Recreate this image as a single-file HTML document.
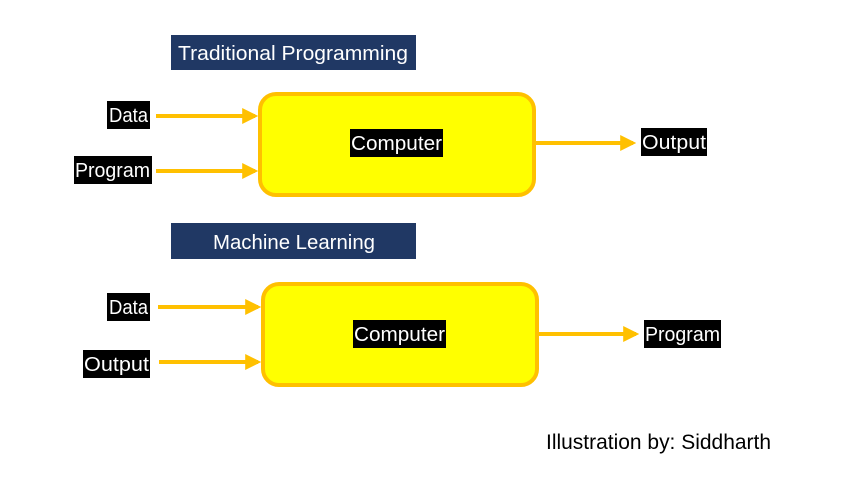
<!DOCTYPE html>
<html><head><style>html,body{margin:0;padding:0;background:#fff;}svg{display:block}</style></head>
<body>
<svg width="843" height="496" xmlns="http://www.w3.org/2000/svg" font-family="Liberation Sans, sans-serif">
<defs><marker id="a" markerWidth="4" markerHeight="4" refX="3.2" refY="2" orient="auto" markerUnits="strokeWidth"><path d="M0,0 L4,2 L0,4 Z" fill="#FFC000"/></marker></defs>
<rect x="171" y="35" width="245" height="35" fill="#203864"/>
<text x="293" y="60" fill="#fff" font-size="20" text-anchor="middle" textLength="230" lengthAdjust="spacingAndGlyphs">Traditional Programming</text>
<rect x="171" y="223" width="245" height="36" fill="#203864"/>
<text x="294" y="249" fill="#fff" font-size="20" text-anchor="middle" textLength="162" lengthAdjust="spacingAndGlyphs">Machine Learning</text>
<g stroke="#FFC000" stroke-width="4" fill="none">
<line x1="156" y1="116" x2="255" y2="116" marker-end="url(#a)"/>
<line x1="156" y1="171" x2="255" y2="171" marker-end="url(#a)"/>
<line x1="534" y1="143" x2="633" y2="143" marker-end="url(#a)"/>
<line x1="158" y1="307" x2="258" y2="307" marker-end="url(#a)"/>
<line x1="159" y1="362" x2="258" y2="362" marker-end="url(#a)"/>
<line x1="537" y1="334" x2="636" y2="334" marker-end="url(#a)"/>
</g>
<rect x="260" y="94" width="274" height="101" rx="16" fill="#FFFF00" stroke="#FFC000" stroke-width="4"/>
<rect x="263" y="284" width="274" height="101" rx="16" fill="#FFFF00" stroke="#FFC000" stroke-width="4"/>
<g font-size="20" fill="#fff">
<rect x="107" y="101" width="43" height="28" fill="#000"/><text x="109" y="122" textLength="39" lengthAdjust="spacingAndGlyphs">Data</text>
<rect x="74" y="156" width="78" height="28" fill="#000"/><text x="75" y="177" textLength="75" lengthAdjust="spacingAndGlyphs">Program</text>
<rect x="350" y="129" width="93" height="28" fill="#000"/><text x="351" y="150" textLength="91" lengthAdjust="spacingAndGlyphs">Computer</text>
<rect x="641" y="128" width="66" height="28" fill="#000"/><text x="642" y="149" textLength="64" lengthAdjust="spacingAndGlyphs">Output</text>
<rect x="107" y="293" width="43" height="28" fill="#000"/><text x="109" y="314" textLength="39" lengthAdjust="spacingAndGlyphs">Data</text>
<rect x="83" y="350" width="67" height="28" fill="#000"/><text x="84" y="371" textLength="65" lengthAdjust="spacingAndGlyphs">Output</text>
<rect x="353" y="320" width="93" height="28" fill="#000"/><text x="354" y="341" textLength="91" lengthAdjust="spacingAndGlyphs">Computer</text>
<rect x="644" y="320" width="77" height="28" fill="#000"/><text x="645" y="341" textLength="75" lengthAdjust="spacingAndGlyphs">Program</text>
</g>
<text x="546" y="449" font-size="21" fill="#000" textLength="225" lengthAdjust="spacingAndGlyphs">Illustration by: Siddharth</text>
</svg>
</body></html>
